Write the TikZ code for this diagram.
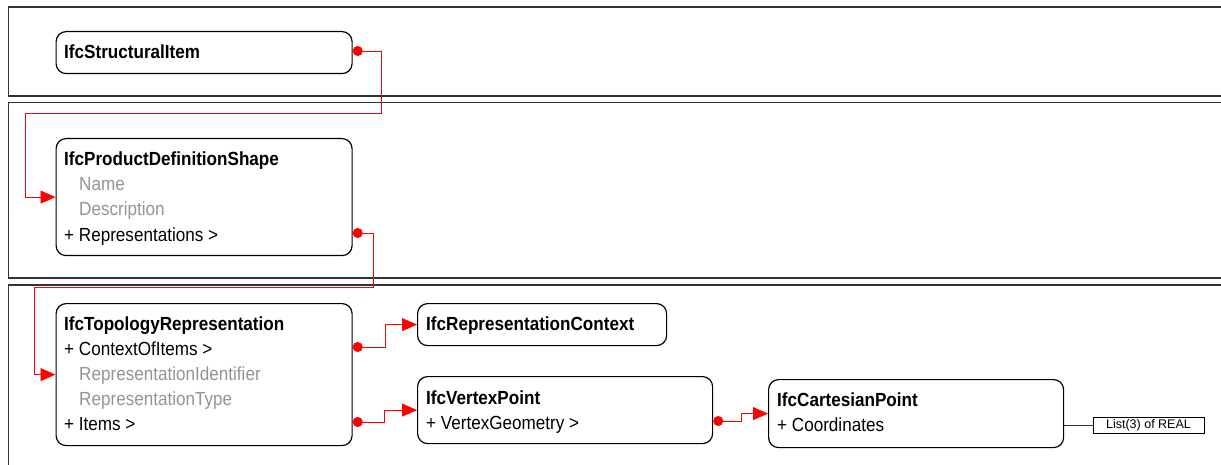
\documentclass[tikz,border=0pt]{standalone}
\usepackage{fontspec}
\setmainfont{Liberation Sans}[FakeStretch=0.9]
\newfontfamily\plainfont{Liberation Sans}
\usetikzlibrary{arrows.meta}

\begin{document}
\begin{tikzpicture}[x=1pt,y=-1pt,
  frame/.style={draw=black!80,line width=1.3pt},
  entity/.style={draw,line width=1.2pt,rounded corners=10pt,inner sep=0pt,anchor=north west},
  row/.style={anchor=west,inner sep=0pt,text height=16pt,text depth=0pt,font=\fontsize{19}{19}\selectfont},
  title/.style={row,font=\fontsize{19}{19}\selectfont\bfseries},
  derived/.style={row,text=black!42},
  link/.style={red,line width=0.8pt,{Circle[length=10pt,width=10pt]}-{Triangle[length=15pt,width=13pt]}},
  listbox/.style={draw,line width=0.8pt,inner sep=0pt,minimum width=111pt,minimum height=16pt,font=\plainfont\fontsize{12.5}{12.5}\selectfont}]
\newcommand\entitybox[5]{
\node[entity,minimum width=#4pt,minimum height=#5pt] (#1) at (#2,#3) {};
}
\useasboundingbox (0,0) rectangle (1221,465);
\clip (0,0) rectangle (1221,465);
\begin{scope}
\draw[frame] (8.5,7) rectangle (1240,96);
\entitybox{si}{55.5}{31}{296}{42}
\node[title] (sit) at (64,51) {IfcStructuralItem};
\end{scope}
\begin{scope}
\draw[frame] (8.5,102.5) rectangle (1240,278);
\entitybox{pds}{55.5}{138}{296}{117}
\node[title] (pdst) at (64,158) {IfcProductDefinitionShape};
\foreach \t/\y in {Name/183,Description/208} \node[derived] (pds-\y) at (79,\y) {\t};
\node[row] (rep) at (64,233) {+ Representations >};
\end{scope}
\begin{scope}
\draw[frame] (8.5,285) rectangle (1240,480);
\entitybox{topo}{55.5}{303}{296}{142}
\node[title] (topot) at (64,322) {IfcTopologyRepresentation};
\node[row] (ctxi) at (64,347) {+ ContextOfItems >};
\foreach \t/\y in {RepresentationIdentifier/372,RepresentationType/397} \node[derived] (topo-\y) at (79,\y) {\t};
\node[row] (items) at (64,422) {+ Items >};
\entitybox{ctx}{417}{303}{249}{42}
\node[title] (ctxt) at (426,322) {IfcRepresentationContext};
\entitybox{vp}{417}{376}{295}{67}
\node[title] (vpt) at (426,396) {IfcVertexPoint};
\node[row] (vg) at (426,421) {+ VertexGeometry >};
\entitybox{cp}{768}{379}{295}{68}
\node[title] (cpt) at (777,398) {IfcCartesianPoint};
\node[row] (coord) at (777,423) {+ Coordinates};
\node[listbox] (lst) at (1148.5,425) {List(3) of REAL};
\draw[black!80,line width=0.8pt] (cp.east |- lst.west) -- (lst.west);
\end{scope}
\draw[link] (sit -| si.east) -- ++(29,0) -- ++(0,62) -| ([xshift=-30pt]pds.west) -- (pds.west);
\draw[link] (rep -| pds.east) -- ++(21,0) -- ++(0,54) -| ([xshift=-21pt]topo.west) -- (topo.west);
\draw[link] (ctxi -| topo.east) -- ++(33,0) |- (ctx.west);
\draw[link] (items -| topo.east) -- ++(32,0) |- (vp.west);
\draw[link] (vg -| vp.east) -- ++(28,0) |- (cp.west);
\end{tikzpicture}
\end{document}
